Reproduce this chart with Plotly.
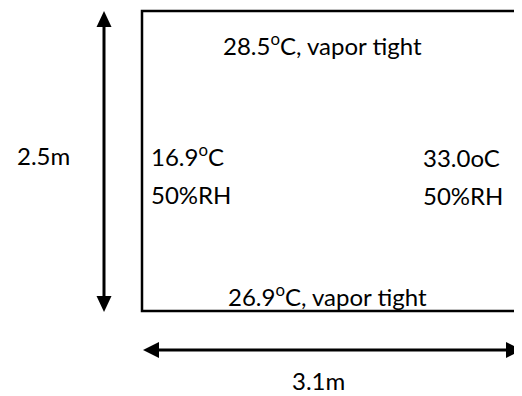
import plotly.graph_objects as go

# Diagram content
top_label = "28.5<sup>o</sup>C, vapor tight"
bottom_label = "26.9<sup>o</sup>C, vapor tight"
left_labels = ["16.9<sup>o</sup>C", "50%RH"]
right_labels = ["33.0oC", "50%RH"]
height_label = "2.5m"
width_label = "3.1m"

W, H = 522, 396
OFF = 8  # page body margin offset
FONT = dict(family="Lato, Carlito, Calibri, sans-serif", size=24, color="#000000")

fig = go.Figure()
fig.add_trace(go.Scatter(x=[OFF, W], y=[OFF, H], mode="markers", marker=dict(opacity=0), hoverinfo="skip", showlegend=False))

shapes = []
# room box (right edge beyond view)
shapes.append(dict(type="rect", x0=142, y0=11, x1=545, y1=311, line=dict(color="black", width=2.5)))
# vertical arrow
vx = 104
shapes.append(dict(type="line", x0=vx, y0=24, x1=vx, y1=299, line=dict(color="black", width=3)))
shapes.append(dict(type="path", path=f"M {vx} 11 L {vx-7.5} 27 L {vx+7.5} 27 Z", fillcolor="black", line=dict(width=0)))
shapes.append(dict(type="path", path=f"M {vx} 312 L {vx-7.5} 296 L {vx+7.5} 296 Z", fillcolor="black", line=dict(width=0)))
# horizontal arrow
hy = 350
shapes.append(dict(type="line", x0=156, y0=hy, x1=509, y1=hy, line=dict(color="black", width=3)))
shapes.append(dict(type="path", path=f"M 143 {hy} L 159 {hy-8} L 159 {hy+8} Z", fillcolor="black", line=dict(width=0)))
shapes.append(dict(type="path", path=f"M 522 {hy} L 506 {hy-8} L 506 {hy+8} Z", fillcolor="black", line=dict(width=0)))

ann = []
def add(text, x, y, xanchor="center"):
    ann.append(dict(text=text, x=x, y=y, xref="x", yref="y", showarrow=False, xanchor=xanchor, yanchor="middle", font=FONT))

add(top_label, 322, 44)
add(bottom_label, 327, 295)
add(left_labels[0], 149, 155, "left")
add(left_labels[1], 149, 194, "left")
add(right_labels[0], 421, 157, "left")
add(right_labels[1], 421, 195, "left")
add(height_label, 43, 155)
add(width_label, 318, 380)

fig.update_layout(
    width=W - OFF, height=H - OFF,
    margin=dict(l=0, r=0, t=0, b=0),
    paper_bgcolor="white", plot_bgcolor="white",
    xaxis=dict(range=[OFF, W], visible=False, fixedrange=True),
    yaxis=dict(range=[H, OFF], visible=False, fixedrange=True),
    shapes=shapes, annotations=ann,
    showlegend=False,
)
fig.write_html("out.html")
